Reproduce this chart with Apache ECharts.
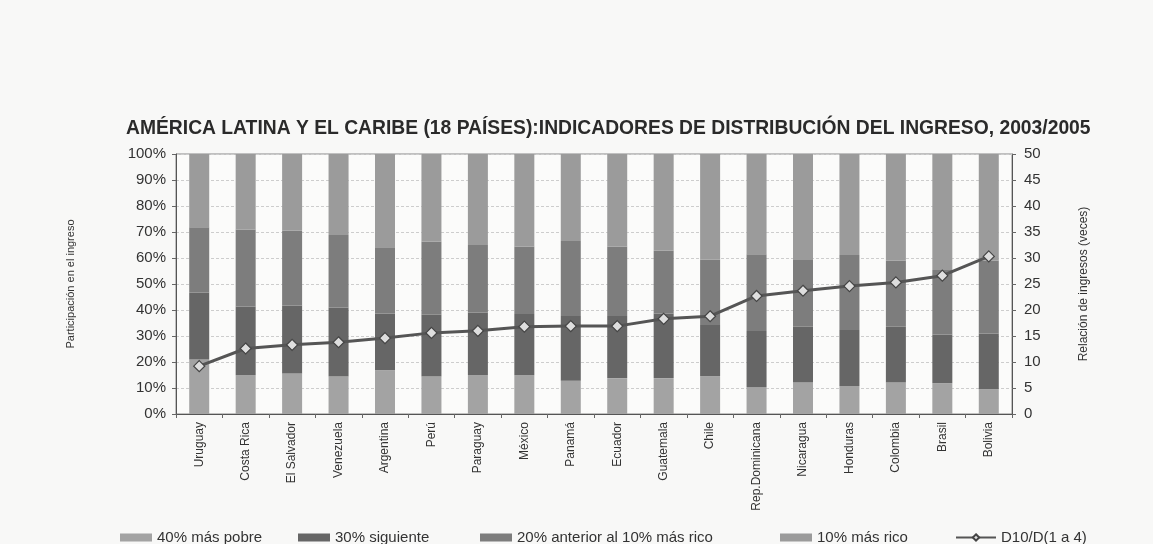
<!DOCTYPE html>
<html>
<head>
<meta charset="utf-8">
<title>América Latina y el Caribe: distribución del ingreso</title>
<script src="https://cdn.jsdelivr.net/npm/echarts@6/dist/echarts.min.js"></script>
<style>
  html, body { margin: 0; padding: 0; background: #f8f8f7; }
  #chart { width: 1153px; height: 544px; }
</style>
</head>
<body>
<div id="chart"></div>
<script>
// Países ordenados por la relación D10/D(1 a 4)
const paises = ['Uruguay', 'Costa Rica', 'El Salvador', 'Venezuela', 'Argentina', 'Perú',
  'Paraguay', 'México', 'Panamá', 'Ecuador', 'Guatemala', 'Chile', 'Rep.Dominicana',
  'Nicaragua', 'Honduras', 'Colombia', 'Brasil', 'Bolivia'];

// Participación en el ingreso total (%)
const pobre40   = [21.0, 14.9, 15.6, 14.4, 16.8, 14.4, 14.9, 14.9, 12.8, 13.8, 13.8, 14.5, 10.3, 12.1, 10.8, 12.1, 11.8, 9.5];
const siguiente30 = [25.7, 26.4, 26.1, 26.6, 21.9, 23.8, 24.1, 23.6, 24.9, 23.9, 24.9, 19.7, 21.6, 21.5, 21.5, 21.5, 18.8, 21.5];
const anterior20  = [25.1, 29.7, 28.8, 27.8, 25.4, 28.1, 26.0, 25.9, 28.8, 26.7, 24.1, 25.2, 29.5, 25.6, 28.9, 25.4, 24.8, 28.0];
const rico10    = [28.2, 29.0, 29.5, 31.2, 35.9, 33.7, 35.0, 35.6, 33.5, 35.6, 37.2, 40.6, 38.6, 40.8, 38.8, 41.0, 44.6, 41.0];

// Relación de ingresos D10/D(1 a 4), en veces
const relacion = [9.2, 12.6, 13.3, 13.8, 14.6, 15.6, 16.0, 16.8, 16.9, 16.9, 18.3, 18.8, 22.7, 23.7, 24.6, 25.3, 26.6, 30.3];

const nombres = ['40% más pobre', '30% siguiente', '20% anterior al 10% más rico', '10% más rico', 'D10/D(1 a 4)'];
const grises = ['#a3a3a3', '#666666', '#7d7d7d', '#9b9b9b'];

const fuente = 'Liberation Sans, Arial, sans-serif';
const chart = echarts.init(document.getElementById('chart'));

function barra(nombre, datos, color) {
  return {
    name: nombre,
    type: 'bar',
    stack: 'ingreso',
    barWidth: 20,
    data: datos,
    itemStyle: { color: color },
    emphasis: { disabled: true }
  };
}

// Una leyenda por elemento para fijar la posición de cada entrada
const posLeyenda = [115, 293, 475, 775, 950];
const leyendas = nombres.map(function (n, i) {
  const esLinea = i === 4;
  return {
    left: posLeyenda[i],
    top: 525,
    itemWidth: esLinea ? 40 : 32,
    itemHeight: 8,
    textStyle: { fontFamily: fuente, fontSize: 15, color: '#333' },
    data: [esLinea ? { name: n } : { name: n, icon: 'rect' }]
  };
});

chart.setOption({
  backgroundColor: '#f8f8f7',
  animation: false,
  title: {
    text: 'AMÉRICA LATINA Y EL CARIBE (18 PAÍSES):INDICADORES DE DISTRIBUCIÓN DEL INGRESO, 2003/2005',
    left: 121,
    top: 114,
    textStyle: { fontFamily: fuente, fontSize: 19.3, fontWeight: 'bold', color: '#2a2a2a' }
  },
  legend: leyendas,
  grid: { left: 176, right: 141, top: 154, bottom: 130, show: true, borderColor: '#888', borderWidth: 1, backgroundColor: '#fbfbfa' },
  xAxis: {
    type: 'category',
    data: paises,
    axisLine: { lineStyle: { color: '#555' } },
    axisTick: { show: true, lineStyle: { color: '#666' }, length: 4 },
    axisLabel: { rotate: 90, fontFamily: fuente, fontSize: 12, color: '#333', margin: 8 }
  },
  yAxis: [
    {
      type: 'value',
      min: 0, max: 100, interval: 10,
      name: 'Participación en el ingreso',
      nameLocation: 'middle',
      nameGap: 100,
      nameRotate: 90,
      nameTextStyle: { fontFamily: fuente, fontSize: 11, color: '#333' },
      axisLine: { show: true, lineStyle: { color: '#555' } },
      axisTick: { show: true, lineStyle: { color: '#666' }, length: 4 },
      axisLabel: { formatter: '{value}%', fontFamily: fuente, fontSize: 15, color: '#333', margin: 10 },
      splitLine: { show: true, lineStyle: { color: '#cdcdcd', type: [3, 2] } }
    },
    {
      type: 'value',
      min: 0, max: 50, interval: 5,
      name: 'Relación de ingresos (veces)',
      nameLocation: 'middle',
      nameGap: 66,
      nameRotate: 90,
      nameTextStyle: { fontFamily: fuente, fontSize: 12, color: '#333' },
      axisLine: { show: true, lineStyle: { color: '#555' } },
      axisTick: { show: true, lineStyle: { color: '#666' }, length: 4 },
      axisLabel: { fontFamily: fuente, fontSize: 15, color: '#333', margin: 12 },
      splitLine: { show: false }
    }
  ],
  series: [
    barra(nombres[0], pobre40, grises[0]),
    barra(nombres[1], siguiente30, grises[1]),
    barra(nombres[2], anterior20, grises[2]),
    barra(nombres[3], rico10, grises[3]),
    {
      name: nombres[4],
      type: 'line',
      yAxisIndex: 1,
      data: relacion,
      symbol: 'diamond',
      symbolSize: 11,
      lineStyle: { color: '#555', width: 3 },
      itemStyle: { color: '#dedede', borderColor: '#444', borderWidth: 1.2 },
      emphasis: { disabled: true },
      z: 5
    }
  ]
});
</script>
</body>
</html>
